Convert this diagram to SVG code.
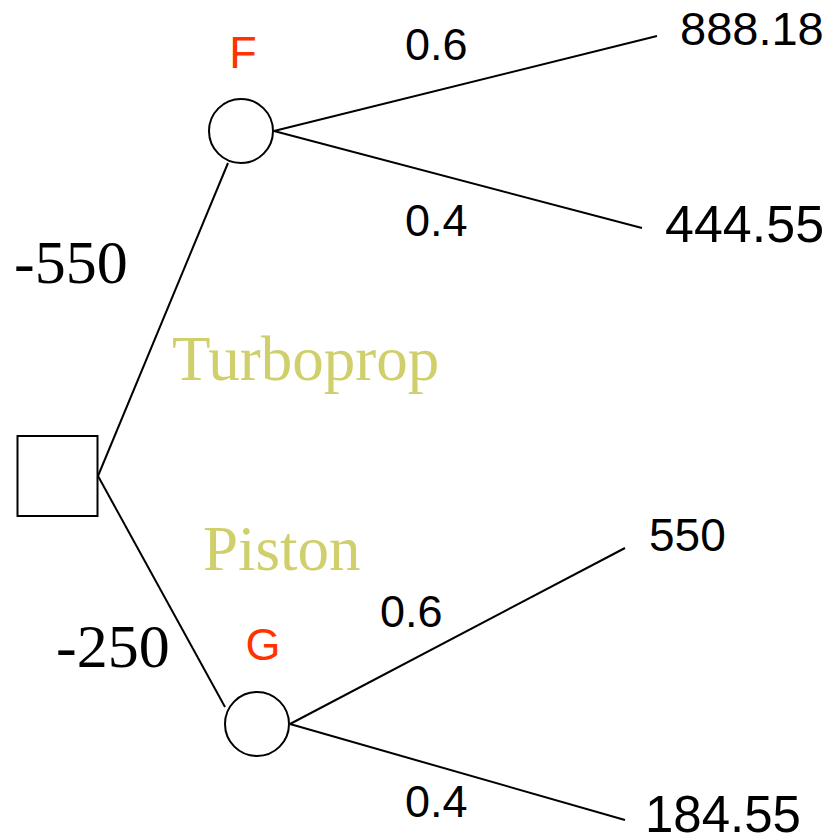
<svg xmlns="http://www.w3.org/2000/svg" width="833" height="840" viewBox="0 0 833 840">
<style>
.shape{fill:#fff;stroke:#000;stroke-width:2}
.edge{stroke:#000;stroke-width:2;fill:none}
.sans{font-family:"Liberation Sans",Arial,sans-serif;fill:#000}
.serif{font-family:"Liberation Serif","Times New Roman",serif;fill:#000}
.red{fill:#FF3300}
.olive{fill:#CFCF6B}
</style>
<rect width="833" height="840" fill="#fff"/>
<g id="connectors">
<line class="edge" x1="98" y1="476" x2="228" y2="163"/>
<line class="edge" x1="98" y1="476" x2="225" y2="707"/>
<line class="edge" x1="274" y1="131" x2="657" y2="36"/>
<line class="edge" x1="274" y1="131" x2="642" y2="228"/>
<line class="edge" x1="290" y1="724" x2="625" y2="548"/>
<line class="edge" x1="290" y1="724" x2="625" y2="820"/>
</g>
<g id="decision">
<rect class="shape" x="17.5" y="436" width="80" height="80"/>
</g>
<g id="nodeF">
<circle class="shape" cx="241" cy="131" r="32"/>
<text class="sans red" x="243" y="68" font-size="45" text-anchor="middle">F</text>
</g>
<g id="nodeG">
<circle class="shape" cx="257" cy="724" r="32"/>
<text class="sans red" x="263" y="660" font-size="45" text-anchor="middle">G</text>
</g>
<g id="labels">
<text class="serif" x="14" y="283" font-size="62">-550</text>
<text class="serif" x="56" y="667" font-size="62">-250</text>
<text class="serif olive" x="172" y="380" font-size="63">Turboprop</text>
<text class="serif olive" x="203" y="570" font-size="63">Piston</text>
<text class="sans" x="405" y="60" font-size="45">0.6</text>
<text class="sans" x="405" y="236" font-size="45">0.4</text>
<text class="sans" x="380" y="627" font-size="45">0.6</text>
<text class="sans" x="405" y="817" font-size="45">0.4</text>
<text class="sans" x="680" y="45" font-size="47">888.18</text>
<text class="sans" x="665" y="242" font-size="52">444.55</text>
<text class="sans" x="649" y="551" font-size="46">550</text>
<text class="sans" x="645" y="832" font-size="51">184.55</text>
</g>
</svg>
